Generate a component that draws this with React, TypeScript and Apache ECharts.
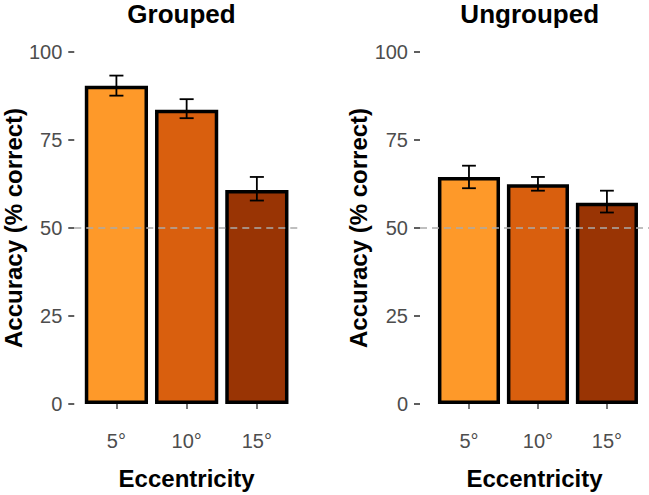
import React, { useEffect, useRef } from 'react';
import * as echarts from 'echarts';

// eccentricity levels
const categories = ['5°', '10°', '15°'];
const barColors = ['#fe9929', '#d95f0e', '#993404'];

// accuracy (% correct), mean and error bar ends
const groupedMean = [90.4, 83.6, 60.8];
const groupedLow = [87.6, 81.2, 57.8];
const groupedHigh = [93.3, 86.6, 64.5];

const ungroupedMean = [64.5, 62.4, 57.2];
const ungroupedLow = [61.3, 60.6, 54.4];
const ungroupedHigh = [67.7, 64.5, 60.6];

const yTicks = [0, 25, 50, 75, 100];
const chanceLevel = 50;

const FONT = '"Liberation Sans", Arial, sans-serif';

const App: React.FC = () => {
  const chartRef = useRef<HTMLDivElement>(null);

  useEffect(() => {
    document.body.style.margin = '0';
    if (!chartRef.current) return;
    const chart = echarts.init(chartRef.current, undefined, { renderer: 'svg' });

    const xPos = categories.map((_, i) => i + 1);

    const makeXAxis = (gridIndex: number, min: number, max: number) => ({
      type: 'value' as const,
      gridIndex,
      min,
      max,
      offset: 18,
      splitLine: { show: false },
      axisLine: { show: false },
      axisTick: {
        show: true,
        customValues: xPos,
        length: 5,
        lineStyle: { color: '#4d4d4d', width: 1.5 },
      },
      axisLabel: {
        customValues: xPos,
        formatter: (v: number) => categories[Math.round(v) - 1] ?? '',
        margin: 9,
        fontSize: 20,
        color: '#4d4d4d',
        fontFamily: FONT,
      },
      name: 'Eccentricity',
      nameLocation: 'middle' as const,
      nameGap: 44,
      nameTextStyle: { fontSize: 24, fontWeight: 'bold' as const, color: '#000', fontFamily: FONT },
    });

    const makeYAxis = (gridIndex: number, nameGap: number) => ({
      type: 'value' as const,
      gridIndex,
      min: yTicks[0],
      max: yTicks[yTicks.length - 1],
      interval: 25,
      splitLine: { show: false },
      axisLine: { show: false },
      axisTick: { show: true, length: 6, lineStyle: { color: '#4d4d4d', width: 1.8 } },
      axisLabel: { margin: 12, fontSize: 20, color: '#4d4d4d', fontFamily: FONT },
      name: 'Accuracy (% correct)',
      nameLocation: 'middle' as const,
      nameRotate: 90,
      nameGap,
      nameTextStyle: { fontSize: 24, fontWeight: 'bold' as const, color: '#000', fontFamily: FONT },
    });

    const barSeries = (idx: number, means: number[]) => ({
      type: 'bar' as const,
      xAxisIndex: idx,
      yAxisIndex: idx,
      barWidth: '90%',
      data: means.map((m, i) => ({
        value: [xPos[i], m],
        itemStyle: { color: barColors[i], borderColor: '#000', borderWidth: 3.5 },
      })),
      markLine: {
        silent: true,
        symbol: 'none',
        label: { show: false },
        lineStyle: { color: '#aaaaaa', type: [7, 5], width: 1.5 },
        data: [{ yAxis: chanceLevel }],
      },
      z: 2,
    });

    const errorSeries = (idx: number, low: number[], high: number[]) => ({
      type: 'custom' as const,
      xAxisIndex: idx,
      yAxisIndex: idx,
      z: 5,
      encode: { x: 0, y: [1, 2] },
      data: low.map((l, i) => [xPos[i], l, high[i]]),
      renderItem: (_params: any, api: any) => {
        const x = api.value(0);
        const top = api.coord([x, api.value(2)]);
        const bot = api.coord([x, api.value(1)]);
        const half = api.size([0.1, 0])[0];
        const style = { stroke: '#000', lineWidth: 1.8 };
        return {
          type: 'group',
          children: [
            { type: 'line', shape: { x1: top[0], y1: top[1], x2: bot[0], y2: bot[1] }, style },
            { type: 'line', shape: { x1: top[0] - half, y1: top[1], x2: top[0] + half, y2: top[1] }, style },
            { type: 'line', shape: { x1: bot[0] - half, y1: bot[1], x2: bot[0] + half, y2: bot[1] }, style },
          ],
        };
      },
    });

    const panelTitle = (text: string, x: number) => ({
      type: 'text' as const,
      x,
      y: 1,
      style: {
        text,
        textAlign: 'center',
        textVerticalAlign: 'top',
        fontSize: 26,
        fontWeight: 'bold',
        fontFamily: FONT,
        fill: '#000',
      },
    });

    chart.setOption({
      animation: false,
      backgroundColor: '#ffffff',
      grid: [
        { left: 71, top: 52, width: 228, height: 352.5 },
        { left: 420, top: 52, width: 229, height: 352.5 },
      ],
      xAxis: [makeXAxis(0, 0.4, 3.6), makeXAxis(1, 0.29, 3.61)],
      yAxis: [makeYAxis(0, 47), makeYAxis(1, 45)],
      graphic: [panelTitle('Grouped', 181.5), panelTitle('Ungrouped', 529.7)],
      series: [
        barSeries(0, groupedMean),
        errorSeries(0, groupedLow, groupedHigh),
        barSeries(1, ungroupedMean),
        errorSeries(1, ungroupedLow, ungroupedHigh),
      ],
    });

    return () => {
      chart.dispose();
    };
  }, []);

  return <div ref={chartRef} style={{ width: '649px', height: '495px' }} />;
};

export default App;
